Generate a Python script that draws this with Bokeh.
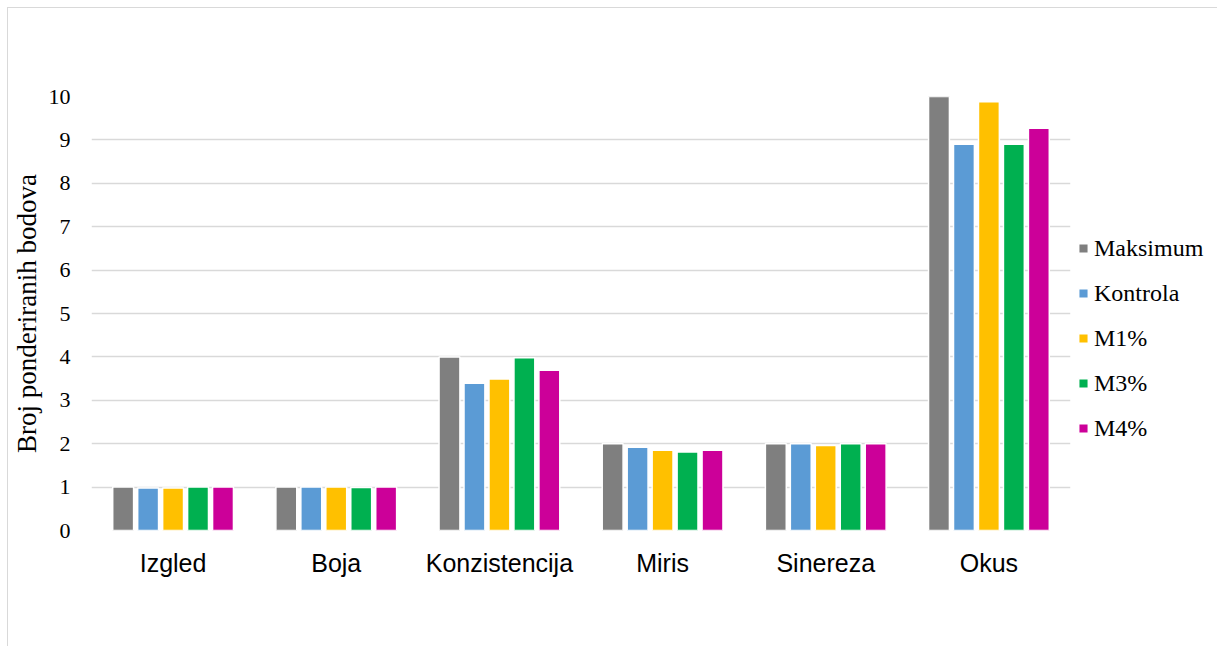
from bokeh.plotting import figure
from bokeh.models import ColumnDataSource, Range1d, FactorRange, Legend, LegendItem, FixedTicker
from bokeh.transform import dodge
from bokeh.embed import file_html
from bokeh.resources import INLINE

categories = ["Izgled", "Boja", "Konzistencija", "Miris", "Sinereza", "Okus"]
series = ["Maksimum", "Kontrola", "M1%", "M3%", "M4%"]
maksimum = [1, 1, 4, 2, 2, 10]
kontrola = [0.98, 1.0, 3.39, 1.92, 2.0, 8.9]
m1 = [0.98, 1.0, 3.49, 1.85, 1.96, 9.88]
m3 = [1.0, 0.99, 3.98, 1.81, 2.0, 8.9]
m4 = [1.0, 1.0, 3.69, 1.85, 2.0, 9.27]
colors = ["#7f7f7f", "#5b9bd5", "#ffc000", "#00b050", "#cc0099"]
y_ticks = list(range(0, 11))

src = ColumnDataSource(dict(cat=categories, Maksimum=maksimum, Kontrola=kontrola,
                            M1=m1, M3=m3, M4=m4))
keys = ["Maksimum", "Kontrola", "M1", "M3", "M4"]

p = figure(x_range=FactorRange(*categories, range_padding=0), y_range=Range1d(0, 10),
           frame_width=979, frame_height=434, output_backend="svg", toolbar_location=None,
           min_border_left=60, min_border_right=145, min_border_top=88, min_border_bottom=118)
p.styles = {"border": "1px solid #d9d9d9", "box-sizing": "border-box",
            "margin-left": "7px", "margin-top": "7px"}
p.outline_line_color = None

offsets = [-0.306, -0.153, 0.0, 0.153, 0.306]
items = []
for k, name, c, off in zip(keys, series, colors, offsets):
    r = p.vbar(x=dodge("cat", off, range=p.x_range), top=k, width=0.128, source=src,
               fill_color=c, line_color="white", line_width=1.5)
    items.append(LegendItem(label=name, renderers=[r]))

legend = Legend(items=items, location=(7, 88), orientation="vertical",
                glyph_width=12, glyph_height=12, label_height=28, spacing=17,
                label_standoff=5, padding=0, margin=0, border_line_color=None,
                background_fill_alpha=0, label_text_font="Liberation Serif",
                label_text_font_size="24px", label_text_color="#000000")
p.add_layout(legend, "right")

p.xgrid.grid_line_color = None
p.ygrid.grid_line_color = "#d9d9d9"
p.ygrid.grid_line_width = 1.5
p.yaxis.ticker = FixedTicker(ticks=y_ticks)
p.yaxis.axis_line_color = None
p.yaxis.major_tick_line_color = None
p.yaxis.major_tick_out = 0
p.yaxis.minor_tick_line_color = None
p.yaxis.major_label_standoff = 21
p.yaxis.major_label_text_font = "Liberation Serif"
p.yaxis.major_label_text_font_size = "22px"
p.yaxis.major_label_text_color = "#000000"
p.yaxis.axis_label = "Broj ponderiranih bodova"
p.yaxis.axis_label_text_font = "Liberation Serif"
p.yaxis.axis_label_text_font_size = "27px"
p.yaxis.axis_label_text_font_style = "normal"
p.yaxis.axis_label_text_color = "#000000"
p.yaxis.axis_label_standoff = 4

p.xaxis.axis_line_color = None
p.xaxis.major_tick_line_color = None
p.xaxis.major_tick_out = 0
p.xaxis.major_label_standoff = 18
p.xaxis.major_label_text_font = "Liberation Sans"
p.xaxis.major_label_text_font_size = "25px"
p.xaxis.major_label_text_color = "#000000"

open("out.html", "w").write(file_html(p, INLINE))
